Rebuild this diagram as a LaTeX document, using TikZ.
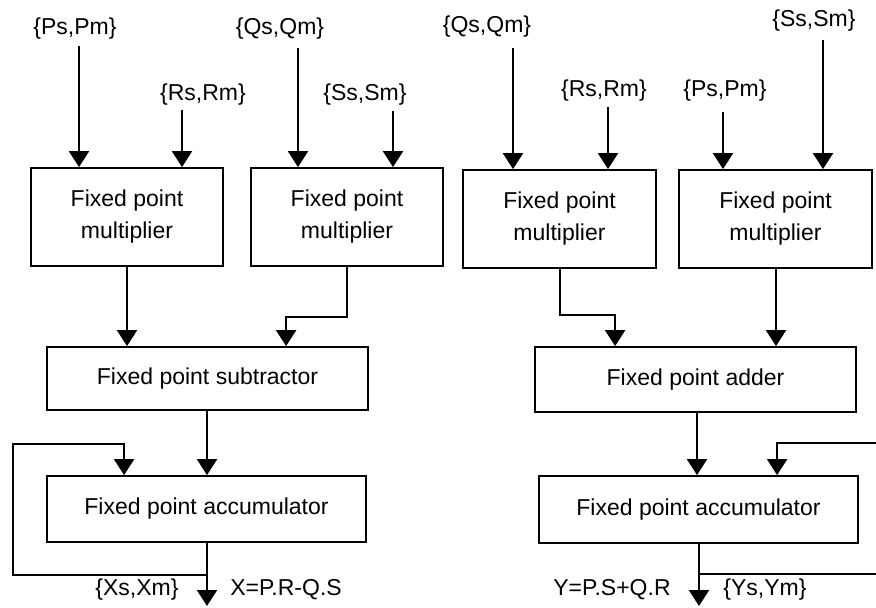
\documentclass[tikz,border=0pt]{standalone}
\usepackage{fontspec}
\setmainfont{Liberation Sans}
\usetikzlibrary{arrows.meta,calc}
\begin{document}
\begin{tikzpicture}[x=1pt,y=-1pt,
  line width=2pt,
  arr/.style={-{Triangle[width=20pt,length=16pt]}},
  blk/.style={draw, line width=1.8pt, align=center, inner sep=0pt,
     font=\fontsize{23}{32}\selectfont},
  lbl/.style={inner sep=0pt, font=\fontsize{23}{28}\selectfont}]
\useasboundingbox (0,0) rectangle (876,608);
% labels
\node[lbl] (ps1) at (75,29) {\{Ps,Pm\}};
\node[lbl] (rs1) at (203,95) {\{Rs,Rm\}};
\node[lbl] (qs1) at (280,29) {\{Qs,Qm\}};
\node[lbl] (ss1) at (365,95) {\{Ss,Sm\}};
\node[lbl] (qs2) at (487,27) {\{Qs,Qm\}};
\node[lbl] (rs2) at (604,91) {\{Rs,Rm\}};
\node[lbl] (ps2) at (725,91) {\{Ps,Pm\}};
\node[lbl] (ss2) at (814,21) {\{Ss,Sm\}};
% blocks
\node[blk, minimum width=192pt, minimum height=98pt] (m1) at (127,217) {Fixed point\\multiplier};
\node[blk, minimum width=192pt, minimum height=98pt] (m2) at (347,217) {Fixed point\\multiplier};
\node[blk, minimum width=193pt, minimum height=98pt] (m3) at (559.5,219) {Fixed point\\multiplier};
\node[blk, minimum width=193pt, minimum height=98pt] (m4) at (775.5,219) {Fixed point\\multiplier};
\node[blk, minimum width=321pt, minimum height=63pt] (sub) at (207.5,378.5) {Fixed point subtractor};
\node[blk, minimum width=321pt, minimum height=65pt] (add) at (695.5,379.5) {Fixed point adder};
\node[blk, minimum width=319pt, minimum height=66pt] (acc1) at (206.5,509) {Fixed point accumulator};
\node[blk, minimum width=319pt, minimum height=67pt] (acc2) at (698.5,509.5) {Fixed point accumulator};
% output labels
\node[lbl] (x1) at (137,590) {\{Xs,Xm\}};
\node[lbl] (xe) at (286,590) {X=P.R-Q.S};
\node[lbl] (ye) at (612,590) {Y=P.S+Q.R};
\node[lbl] (y1) at (765,590) {\{Ys,Ym\}};
% input arrow starts
\coordinate (a1) at (79,46);
\coordinate (a2) at (182,110);
\coordinate (a3) at (298,48);
\coordinate (a4) at (393,111);
\coordinate (a5) at (513,48);
\coordinate (a6) at (608,107);
\coordinate (a7) at (723,112);
\coordinate (a8) at (823,40);
\draw[arr] (a1) -- (a1 |- m1.north);
\draw[arr] (a2) -- (a2 |- m1.north);
\draw[arr] (a3) -- (a3 |- m2.north);
\draw[arr] (a4) -- (a4 |- m2.north);
\draw[arr] (a5) -- (a5 |- m3.north);
\draw[arr] (a6) -- (a6 |- m3.north);
\draw[arr] (a7) -- (a7 |- m4.north);
\draw[arr] (a8) -- (a8 |- m4.north);
% connection points
\coordinate (b1) at (127,300);
\coordinate (s2) at ($(sub.north west)+(240,0)$);
\coordinate (d1) at ($(add.north west)+(81,0)$);
\coordinate (d2) at (776,300);
\coordinate (c1) at (207,400);
\coordinate (c2) at (697,400);
\coordinate (k1) at ($(acc1.north west)+(78,0)$);
\coordinate (k2) at ($(acc2.north west)+(239,0)$);
% multipliers to subtractor / adder
\draw[arr] (b1 |- m1.south) -- (b1 |- sub.north);
\draw[arr] (m2.south) -- ++(0,50) -| (s2);
\draw[arr] (m3.south) -- ++(0,46) -| (d1);
\draw[arr] (d2 |- m4.south) -- (d2 |- add.north);
% to accumulators
\draw[arr] (c1 |- sub.south) -- (c1 |- acc1.north);
\draw[arr] (c2 |- add.south) -- (c2 |- acc2.north);
% outputs
\coordinate (o1) at (207,606);
\coordinate (o2) at (699,606);
\draw[arr] (o1 |- acc1.south) -- (o1);
\draw[arr] (o2 |- acc2.south) -- (o2);
% feedback
\coordinate (f1) at (207,575);
\coordinate (f2) at (699,574);
\draw[arr] (f1) -- (13,575) -- (13,444) -| (k1);
\draw[arr] (f2) -- (877,574) -- (877,443) -| (k2);
\end{tikzpicture}
\end{document}
